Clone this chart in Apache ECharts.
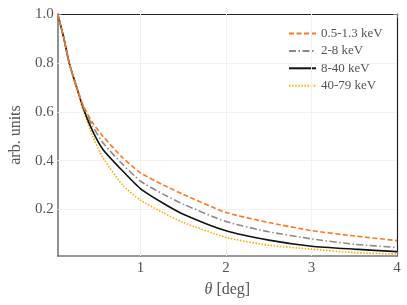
<!DOCTYPE html>
<html><head><meta charset="utf-8">
<script src="https://cdn.jsdelivr.net/npm/echarts@6/dist/echarts.min.js"></script>
<style>html,body{margin:0;padding:0;background:#fff}#c{width:407px;height:305px}</style>
</head><body><div id="c"></div>
<script>
const theta = [0.03, 0.1, 0.165, 0.25, 0.33, 0.44, 0.56, 0.79, 1.0, 1.27, 1.5, 2, 2.5, 3, 3.5, 4];
const soft   = [1.0, 0.905, 0.8, 0.704, 0.625, 0.555, 0.50, 0.412, 0.35, 0.30, 0.262, 0.188, 0.147, 0.114, 0.092, 0.073];
const medium = [1.0, 0.905, 0.8, 0.704, 0.62, 0.541, 0.473, 0.385, 0.316, 0.262, 0.222, 0.151, 0.109, 0.08, 0.058, 0.045];
const hard   = [1.0, 0.905, 0.8, 0.703, 0.615, 0.521, 0.446, 0.358, 0.285, 0.225, 0.181, 0.113, 0.075, 0.05, 0.038, 0.028];
const vhard  = [1.0, 0.903, 0.797, 0.697, 0.605, 0.50, 0.412, 0.30, 0.238, 0.186, 0.147, 0.086, 0.054, 0.038, 0.024, 0.018];
const seriesNames = ['0.5-1.3 keV', '2-8 keV', '8-40 keV', '40-79 keV'];
const xTicks = [1, 2, 3, 4];
const yTicks = [0.2, 0.4, 0.6, 0.8, 1.0];
const xGrid = [1, 2, 3];
const yGrid = [0.2, 0.4, 0.6, 0.8];

const FONT = 'Liberation Serif';
const pair = (ys) => theta.map((x, i) => [x, ys[i]]);
const chart = echarts.init(document.getElementById('c'), null, {renderer: 'canvas'});

const styles = [
  {color: '#ff7722', type: [5, 2.5], width: 1.6},
  {color: '#8a8a8a', type: [7, 2.5, 1.5, 2.5], width: 1.6},
  {color: '#111111', type: 'solid', width: 1.6},
  {color: '#ffaa00', type: [1.5, 1.6], width: 1.6}
];
const datas = [soft, medium, hard, vhard];

const series = datas.map((d, i) => ({
  name: seriesNames[i], type: 'line', data: pair(d), symbol: 'none', showSymbol: false,
  smooth: 0.2, z: 10 - i,
  lineStyle: styles[i], itemStyle: {color: styles[i].color},
  emphasis: {disabled: true}
}));
series[0].markLine = {
  silent: true, symbol: 'none', label: {show: false}, animation: false,
  lineStyle: {color: '#f1f1f1', width: 1, type: 'solid'},
  data: xGrid.map(v => ({xAxis: v})).concat(yGrid.map(v => ({yAxis: v})))
};

chart.setOption({
  animation: false,
  grid: {left: 52, right: 10, top: 14, bottom: 49},
  legend: {
    orient: 'vertical', left: 283, top: 22, itemWidth: 27, itemHeight: 14, itemGap: 4.4,
    itemStyle: {opacity: 0, borderWidth: 0},
    textStyle: {fontFamily: FONT, fontSize: 13, color: '#555'},
    data: seriesNames
  },
  xAxis: [{
    type: 'value', min: 0.03, max: 4, position: 'bottom',
    name: '{i|θ} [deg]', nameLocation: 'middle', nameGap: 26,
    nameTextStyle: {fontFamily: FONT, fontSize: 16, color: '#555',
      rich: {i: {fontFamily: FONT, fontStyle: 'italic', fontSize: 16, color: '#555'}}},
    axisLine: {show: true, onZero: false, lineStyle: {color: '#777', width: 1.6}},
    axisTick: {show: true, inside: true, length: 4, customValues: xTicks, lineStyle: {color: '#777'}},
    axisLabel: {customValues: xTicks, fontFamily: FONT, fontSize: 15, color: '#555', margin: 5,
      formatter: v => String(v)},
    splitLine: {show: false}
  }, {
    type: 'value', min: 0.03, max: 4, position: 'top',
    axisLine: {show: true, onZero: false, lineStyle: {color: '#222', width: 1.2}},
    axisTick: {show: true, inside: true, length: 4, customValues: xTicks, lineStyle: {color: '#777'}},
    axisLabel: {show: false}, splitLine: {show: false}
  }],
  yAxis: [{
    type: 'value', min: 0.01, max: 1.0, position: 'left',
    name: 'arb. units', nameLocation: 'middle', nameGap: 30,
    nameTextStyle: {fontFamily: FONT, fontSize: 16, color: '#555'},
    axisLine: {show: true, onZero: false, lineStyle: {color: '#777', width: 1.6}},
    axisTick: {show: true, inside: true, length: 4, customValues: yTicks, lineStyle: {color: '#777'}},
    axisLabel: {customValues: yTicks, fontFamily: FONT, fontSize: 15, color: '#555', margin: 4,
      formatter: v => v.toFixed(1)},
    splitLine: {show: false}
  }, {
    type: 'value', min: 0.01, max: 1.0, position: 'right',
    axisLine: {show: true, onZero: false, lineStyle: {color: '#222', width: 1.2}},
    axisTick: {show: true, inside: true, length: 4, customValues: yTicks, lineStyle: {color: '#777'}},
    axisLabel: {show: false}, splitLine: {show: false}
  }],
  series: series
});
</script></body></html>
